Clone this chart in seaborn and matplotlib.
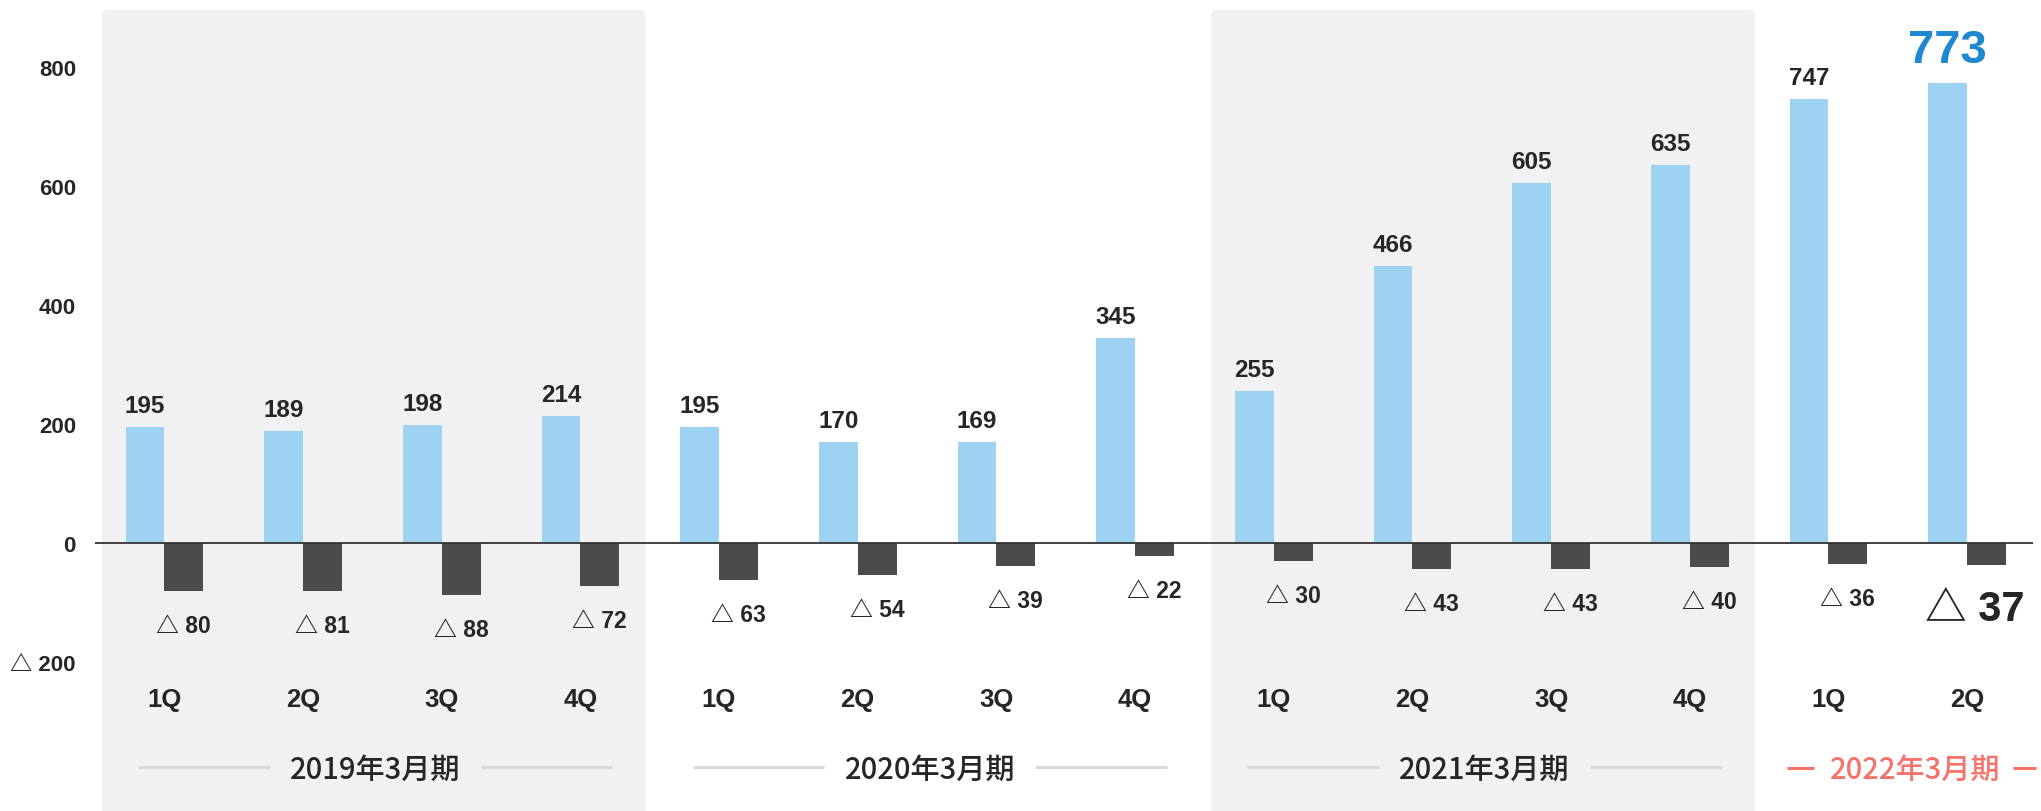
import matplotlib
matplotlib.use("Agg")
import matplotlib.pyplot as plt
import matplotlib.transforms as mtransforms
from matplotlib.patches import FancyBboxPatch
import pandas as pd
import seaborn as sns

# ---- data -------------------------------------------------------------
fiscal_years = ["2019年3月期", "2020年3月期", "2021年3月期", "2022年3月期"]
quarters = ["1Q", "2Q", "3Q", "4Q", "1Q", "2Q", "3Q", "4Q",
            "1Q", "2Q", "3Q", "4Q", "1Q", "2Q"]
year_index = [0, 0, 0, 0, 1, 1, 1, 1, 2, 2, 2, 2, 3, 3]
revenue = [195, 189, 198, 214, 195, 170, 169, 345, 255, 466, 605, 635, 747, 773]
operating_loss = [-80, -81, -88, -72, -63, -54, -39, -22, -30, -43, -43, -40, -36, -37]
y_ticks = [-200, 0, 200, 400, 600, 800]
y_tick_labels = ["△ 200", "0", "200", "400", "600", "800"]
shaded_years = [0, 2]

# ---- style -------------------------------------------------------------
BLUE = "#9dd2f2"
DARK = "#4a4b4d"
PANEL = "#f1f1f1"
TEXT = "#262626"
HIGHLIGHT = "#1e88d0"
CURRENT = "#f4736b"
RULE = "#dadada"

sns.set_style("white")
plt.rcParams["font.family"] = ["Liberation Sans", "Noto Sans CJK JP", "DejaVu Sans"]
CJK = ["Noto Sans CJK JP", "DejaVu Sans"]

periods = [f"{fiscal_years[y]}-{q}" for y, q in zip(year_index, quarters)]
df = pd.DataFrame({
    "period": periods * 2,
    "value": revenue + operating_loss,
    "series": ["revenue"] * len(revenue) + ["loss"] * len(operating_loss),
})

fig = plt.figure(figsize=(20.41, 8.12), dpi=100)
ax = fig.add_axes([95 / 2041, 0.0, 1938 / 2041, 1.0])

sns.barplot(data=df, x="period", y="value", hue="series",
            order=periods, hue_order=["revenue", "loss"],
            palette=[BLUE, DARK], saturation=1, width=0.56, dodge=True,
            linewidth=0, errorbar=None, legend=False, ax=ax, zorder=2)

n = len(periods)
ax.set_xlim(-0.5, n - 0.525)
ax.set_ylim(-450.6, 914.7)
half = 0.14  # half of the dodge offset between the two bars of a quarter

# shaded fiscal-year panels
for y in shaded_years:
    idx = [i for i, yi in enumerate(year_index) if yi == y]
    x0, x1 = idx[0] - 0.45, idx[-1] + 0.47
    panel = FancyBboxPatch((x0, -700), x1 - x0, 896.3 + 700,
                           boxstyle="round,pad=0,rounding_size=0.04",
                           mutation_aspect=232, facecolor=PANEL,
                           edgecolor="none", zorder=0)
    ax.add_patch(panel)

ax.axhline(0, color="#333333", lw=1.3, zorder=3)

# value labels
for i, v in enumerate(revenue):
    last = i == n - 1
    ax.annotate(str(v), (i - half, v),
                xytext=(0, 15.0 if last else 10.8), textcoords="offset points",
                ha="center", va="baseline",
                fontsize=34 if last else 17.5, fontweight="bold",
                color=HIGHLIGHT if last else TEXT, zorder=4)

for i, v in enumerate(operating_loss):
    last = i == n - 1
    ax.annotate(f"△ {abs(v)}", (i + half, v),
                xytext=(-8.5 if last else 0, -39.6 if last else -29.5),
                textcoords="offset points",
                ha="center", va="baseline",
                fontsize=30 if last else 16.5, fontweight="bold",
                color=TEXT, zorder=4)

# axes cosmetics
for s in ax.spines.values():
    s.set_visible(False)
ax.set_xlabel("")
ax.set_ylabel("")
ax.tick_params(axis="x", length=0, labelbottom=False)
ax.set_yticks(y_ticks, labels=y_tick_labels)
ax.tick_params(axis="y", length=0, pad=13.7)
for lbl in ax.get_yticklabels():
    lbl.set_fontsize(16)
    lbl.set_fontweight("bold")
    lbl.set_color(TEXT)

trans = mtransforms.blended_transform_factory(ax.transData, ax.transAxes)

# quarter labels
for i, q in enumerate(quarters):
    ax.text(i, 0.1297, q, transform=trans, ha="center", va="baseline",
            fontsize=18.5, fontweight="bold", color=TEXT)

# fiscal-year labels with side rules
for y, name in enumerate(fiscal_years):
    idx = [i for i, yi in enumerate(year_index) if yi == y]
    mid = (idx[0] + idx[-1]) / 2
    if len(idx) == 4:
        ax.text(mid + 0.02, 0.0415, name, transform=trans, ha="center",
                va="baseline", fontsize=21, fontweight="medium",
                family=CJK, color=TEXT)
        ax.plot([idx[0] - 0.19, mid - 0.74], [0.0542, 0.0542],
                transform=trans, color=RULE, lw=2.2, solid_capstyle="butt")
        ax.plot([mid + 0.78, idx[-1] + 0.23], [0.0542, 0.0542],
                transform=trans, color=RULE, lw=2.2, solid_capstyle="butt")
    else:
        ax.text(mid + 0.123, 0.0415, name, transform=trans, ha="center",
                va="baseline", fontsize=21, fontweight="medium",
                family=CJK, color=CURRENT)
        ax.plot([mid - 0.80, mid - 0.606], [0.0530, 0.0530],
                transform=trans, color=CURRENT, lw=2.2,
                solid_capstyle="butt", clip_on=False)
        ax.plot([mid + 0.83, mid + 0.996], [0.0530, 0.0530],
                transform=trans, color=CURRENT, lw=2.2,
                solid_capstyle="butt", clip_on=False)

fig.savefig("out.png", dpi=100, facecolor="white")
